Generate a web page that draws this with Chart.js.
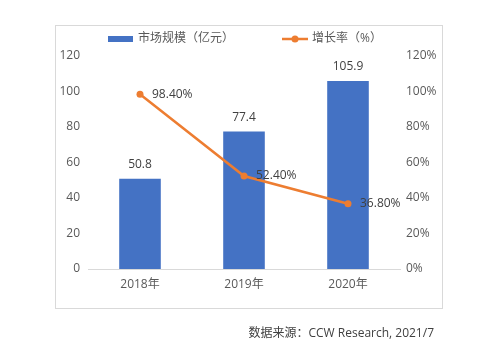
<!DOCTYPE html>
<html>
<head>
<meta charset="utf-8">
<script src="https://cdn.jsdelivr.net/npm/chart.js@4/dist/chart.umd.min.js"></script>
<style>
  html, body { margin: 0; padding: 0; background: #fff; }
  #wrap { position: relative; width: 499px; height: 363px; }
  #chart { position: absolute; left: 0; top: 0; }
  #note {
    position: absolute; right: 65px; top: 323px;
    font: 12px "Open Sans", "Noto Sans CJK SC", sans-serif; color: #404040;
    white-space: nowrap;
  }
</style>
</head>
<body>
<div id="wrap">
  <canvas id="chart" width="499" height="363"></canvas>
  <div id="note">数据来源：CCW Research, 2021/7</div>
</div>
<script>
// data
var years = ['2018年', '2019年', '2020年'];
var marketSize = [50.8, 77.4, 105.9];
var growthRate = [98.4, 52.4, 36.8];
var seriesNames = ['市场规模（亿元）', '增长率（%）'];

var FONT = '"Open Sans", "Noto Sans CJK SC", sans-serif';
var BLUE = '#4472C4';
var ORANGE = '#ED7D31';

// border, legend and value labels
var decoPlugin = {
  id: 'deco',
  beforeDraw: function (chart) {
    var ctx = chart.ctx;
    ctx.save();
    ctx.strokeStyle = '#d9d9d9';
    ctx.lineWidth = 1;
    ctx.strokeRect(55.5, 25.5, 387, 283);
    ctx.restore();
  },
  afterDatasetsDraw: function (chart) {
    var ctx = chart.ctx;
    ctx.save();
    ctx.font = '12px ' + FONT;
    ctx.fillStyle = '#404040';

    var bars = chart.getDatasetMeta(0).data;
    ctx.textAlign = 'center';
    ctx.textBaseline = 'middle';
    bars.forEach(function (bar, i) {
      ctx.fillText(marketSize[i].toFixed(1), bar.x, bar.y - 14);
    });

    var pts = chart.getDatasetMeta(1).data;
    ctx.textAlign = 'left';
    pts.forEach(function (pt, i) {
      ctx.fillText(growthRate[i].toFixed(2) + '%', pt.x + 12, pt.y);
    });

    // legend
    ctx.fillStyle = '#595959';
    ctx.fillStyle = BLUE;
    ctx.fillRect(108, 36, 25, 6);
    ctx.strokeStyle = ORANGE;
    ctx.lineWidth = 2.5;
    ctx.beginPath();
    ctx.moveTo(282, 39);
    ctx.lineTo(308, 39);
    ctx.stroke();
    ctx.fillStyle = ORANGE;
    ctx.beginPath();
    ctx.arc(295, 39, 3.5, 0, Math.PI * 2);
    ctx.fill();
    ctx.fillStyle = '#595959';
    ctx.fillText(seriesNames[0], 138, 39);
    ctx.fillText(seriesNames[1], 312, 39);
    ctx.restore();
  }
};

var ctx = document.getElementById('chart').getContext('2d');
var chart = new Chart(ctx, {
  type: 'bar',
  data: {
    labels: years,
    datasets: [{
      type: 'line',
      label: seriesNames[1],
      data: growthRate,
      yAxisID: 'y1',
      borderColor: ORANGE,
      backgroundColor: ORANGE,
      borderWidth: 2.5,
      pointRadius: 3.5,
      pointBackgroundColor: ORANGE,
      pointBorderWidth: 0,
      tension: 0,
      order: 0
    }, {
      type: 'bar',
      label: seriesNames[0],
      data: marketSize,
      yAxisID: 'y',
      backgroundColor: BLUE,
      categoryPercentage: 1,
      barPercentage: 0.4,
      order: 1
    }].reverse()
  },
  options: {
    responsive: false,
    animation: false,
    layout: { padding: { top: 56, left: 0, right: 0, bottom: 0 } },
    plugins: { legend: { display: false }, tooltip: { enabled: false } },
    scales: {
      x: {
        grid: { display: false, drawTicks: false },
        border: { display: true, color: '#d9d9d9', width: 1 },
        ticks: { color: '#595959', font: { size: 12, family: FONT }, padding: 8 },
        afterFit: function (s) { s.height = 94; }
      },
      y: {
        position: 'left',
        min: 0, max: 120,
        grid: { display: false, drawTicks: false },
        border: { display: false },
        ticks: { stepSize: 20, color: '#595959', font: { size: 12, family: FONT }, padding: 8 },
        afterFit: function (s) { s.width = 88; }
      },
      y1: {
        position: 'right',
        min: 0, max: 120,
        grid: { display: false, drawTicks: false },
        border: { display: false },
        ticks: {
          stepSize: 20, color: '#595959', font: { size: 12, family: FONT }, padding: 6,
          callback: function (v) { return v + '%'; }
        },
        afterFit: function (s) { s.width = 99; }
      }
    }
  },
  plugins: [decoPlugin]
});
</script>
</body>
</html>
